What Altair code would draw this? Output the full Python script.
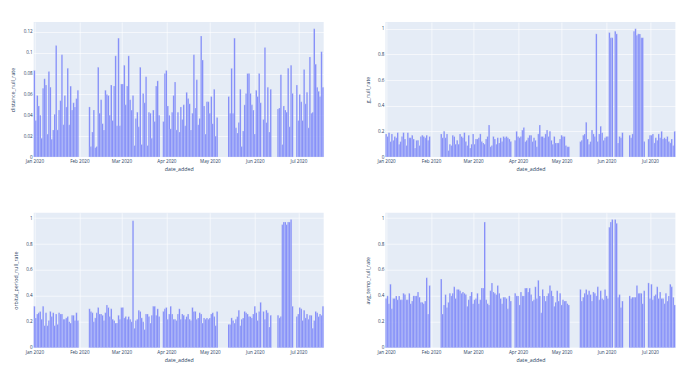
import altair as alt
import pandas as pd

# date segments (days with data)
segments = [("2020-01-01", "2020-01-31"), ("2020-02-08", "2020-03-27"),
            ("2020-03-30", "2020-05-06"), ("2020-05-14", "2020-06-05"),
            ("2020-06-07", "2020-06-12"), ("2020-06-17", "2020-06-27"),
            ("2020-06-30", "2020-07-18")]

distance_null_rate = [
    0.083, 0.035, 0.059, 0.049, 0.040, 0.018, 0.066, 0.075, 0.069, 0.022,
    0.082, 0.067, 0.017, 0.026, 0.041, 0.107, 0.026, 0.045, 0.054, 0.098,
    0.031, 0.059, 0.048, 0.085, 0.031, 0.068, 0.045, 0.052, 0.048, 0.056, 0.064,
    0.048, 0.010, 0.024, 0.045, 0.009, 0.010, 0.086, 0.042, 0.055, 0.032,
    0.026, 0.064, 0.060, 0.059, 0.040, 0.069, 0.035, 0.068, 0.097, 0.030,
    0.114, 0.030, 0.070, 0.070, 0.088, 0.050, 0.068, 0.097, 0.055, 0.045,
    0.059, 0.011, 0.037, 0.043, 0.029, 0.086, 0.012, 0.061, 0.052, 0.077,
    0.011, 0.043, 0.042, 0.018, 0.045, 0.034, 0.068, 0.073, 0.040,
    0.034, 0.080, 0.083, 0.049, 0.040, 0.027, 0.043, 0.059, 0.072, 0.026,
    0.043, 0.024, 0.048, 0.036, 0.050, 0.030, 0.062, 0.056, 0.051, 0.026,
    0.042, 0.098, 0.047, 0.074, 0.031, 0.037, 0.116, 0.093, 0.049, 0.022,
    0.053, 0.053, 0.042, 0.058, 0.032, 0.065, 0.020, 0.038,
    0.058, 0.042, 0.085, 0.042, 0.114, 0.028, 0.023, 0.033, 0.065, 0.010,
    0.025, 0.050, 0.061, 0.080, 0.080, 0.061, 0.050, 0.045, 0.022, 0.064,
    0.058, 0.080, 0.052,
    0.036, 0.105, 0.033, 0.067, 0.024, 0.065,
    0.046, 0.047, 0.079, 0.012, 0.049, 0.045, 0.043, 0.085, 0.029, 0.088, 0.061,
    0.069, 0.035, 0.060, 0.053, 0.035, 0.084, 0.051, 0.062, 0.028, 0.096,
    0.042, 0.043, 0.123, 0.089, 0.067, 0.063, 0.058, 0.101, 0.067]

g_null_rate = [
    0.18, 0.16, 0.19, 0.12, 0.18, 0.13, 0.16, 0.15, 0.19, 0.10,
    0.12, 0.16, 0.19, 0.14, 0.09, 0.19, 0.15, 0.15, 0.17, 0.14,
    0.07, 0.13, 0.13, 0.09, 0.16, 0.17, 0.16, 0.15, 0.17, 0.13, 0.16,
    0.18, 0.15, 0.20, 0.15, 0.18, 0.05, 0.10, 0.09, 0.17, 0.16,
    0.10, 0.13, 0.10, 0.18, 0.16, 0.15, 0.19, 0.12, 0.09, 0.17,
    0.07, 0.10, 0.18, 0.10, 0.14, 0.14, 0.15, 0.18, 0.12, 0.11,
    0.10, 0.14, 0.16, 0.25, 0.08, 0.09, 0.16, 0.14, 0.10, 0.15,
    0.11, 0.15, 0.12, 0.16, 0.15, 0.16, 0.15, 0.14, 0.12,
    0.13, 0.20, 0.16, 0.15, 0.16, 0.21, 0.23, 0.12, 0.13, 0.15,
    0.17, 0.17, 0.12, 0.15, 0.13, 0.08, 0.18, 0.25, 0.16, 0.16,
    0.15, 0.18, 0.21, 0.16, 0.20, 0.13, 0.10, 0.16, 0.11, 0.11,
    0.11, 0.14, 0.17, 0.16, 0.16, 0.09, 0.08, 0.08,
    0.12, 0.13, 0.17, 0.18, 0.27, 0.14, 0.10, 0.12, 0.21, 0.18,
    0.16, 0.96, 0.12, 0.18, 0.24, 0.19, 0.13, 0.15, 0.16, 0.16,
    0.97, 0.93, 0.93,
    0.98, 0.96, 0.11, 0.16, 0.15, 0.19,
    0.17, 0.15, 0.18, 0.98, 1.00, 0.95, 0.96, 0.96, 0.93, 0.93, 0.12,
    0.14, 0.17, 0.17, 0.18, 0.11, 0.15, 0.13, 0.18, 0.15, 0.20,
    0.14, 0.15, 0.14, 0.16, 0.12, 0.11, 0.14, 0.09, 0.20]

orbital_period_null_rate = [
    0.32, 0.23, 0.26, 0.27, 0.28, 0.22, 0.32, 0.17, 0.27, 0.17,
    0.21, 0.28, 0.24, 0.27, 0.17, 0.26, 0.18, 0.27, 0.26, 0.26,
    0.22, 0.22, 0.23, 0.24, 0.20, 0.19, 0.25, 0.25, 0.21, 0.27, 0.21,
    0.30, 0.28, 0.27, 0.20, 0.23, 0.27, 0.31, 0.26, 0.26, 0.25,
    0.21, 0.27, 0.33, 0.31, 0.24, 0.30, 0.22, 0.21, 0.19, 0.19,
    0.25, 0.22, 0.31, 0.31, 0.23, 0.24, 0.22, 0.24, 0.22, 0.20,
    0.98, 0.15, 0.21, 0.22, 0.29, 0.28, 0.23, 0.20, 0.14, 0.26,
    0.26, 0.24, 0.19, 0.25, 0.32, 0.32, 0.25, 0.30, 0.24,
    0.28, 0.30, 0.31, 0.22, 0.26, 0.32, 0.26, 0.22, 0.22, 0.21,
    0.26, 0.30, 0.22, 0.26, 0.25, 0.22, 0.24, 0.26, 0.22, 0.21,
    0.31, 0.28, 0.28, 0.22, 0.23, 0.27, 0.26, 0.19, 0.23, 0.22,
    0.23, 0.22, 0.23, 0.26, 0.27, 0.24, 0.17, 0.28,
    0.18, 0.18, 0.23, 0.21, 0.19, 0.22, 0.24, 0.29, 0.17, 0.22,
    0.23, 0.28, 0.27, 0.26, 0.24, 0.24, 0.23, 0.26, 0.32, 0.27,
    0.21, 0.28, 0.35,
    0.28, 0.22, 0.29, 0.27, 0.16, 0.25,
    0.25, 0.23, 0.24, 0.95, 0.97, 0.97, 0.95, 0.97, 0.97, 0.99, 0.32,
    0.24, 0.26, 0.31, 0.30, 0.21, 0.29, 0.23, 0.26, 0.22, 0.25,
    0.25, 0.15, 0.21, 0.28, 0.27, 0.24, 0.26, 0.25, 0.32]

avg_temp_null_rate = [
    0.38, 0.40, 0.34, 0.49, 0.30, 0.38, 0.38, 0.40, 0.37, 0.40,
    0.37, 0.37, 0.42, 0.41, 0.37, 0.37, 0.42, 0.34, 0.36, 0.40,
    0.40, 0.40, 0.43, 0.39, 0.35, 0.35, 0.34, 0.36, 0.54, 0.26, 0.48,
    0.53, 0.26, 0.33, 0.41, 0.31, 0.35, 0.42, 0.40, 0.42, 0.47,
    0.38, 0.45, 0.45, 0.44, 0.42, 0.43, 0.42, 0.41, 0.32, 0.37,
    0.40, 0.43, 0.34, 0.37, 0.38, 0.42, 0.34, 0.37, 0.46, 0.46,
    0.97, 0.37, 0.34, 0.33, 0.44, 0.50, 0.43, 0.42, 0.41, 0.48,
    0.42, 0.38, 0.34, 0.39, 0.39, 0.38, 0.30, 0.40, 0.36,
    0.42, 0.40, 0.40, 0.33, 0.43, 0.40, 0.40, 0.46, 0.46, 0.43,
    0.46, 0.41, 0.36, 0.37, 0.47, 0.38, 0.52, 0.40, 0.27, 0.45,
    0.40, 0.36, 0.40, 0.42, 0.48, 0.44, 0.40, 0.32, 0.35, 0.44,
    0.36, 0.42, 0.33, 0.37, 0.36, 0.36, 0.34, 0.33,
    0.45, 0.36, 0.39, 0.42, 0.45, 0.41, 0.44, 0.41, 0.36, 0.43,
    0.42, 0.40, 0.47, 0.37, 0.44, 0.38, 0.37, 0.45, 0.40, 0.38,
    0.93, 0.97, 0.99,
    0.99, 0.96, 0.39, 0.41, 0.31, 0.36,
    0.40, 0.38, 0.39, 0.39, 0.39, 0.48, 0.42, 0.42, 0.42, 0.34, 0.44,
    0.50, 0.38, 0.49, 0.37, 0.40, 0.41, 0.47, 0.38, 0.43, 0.38,
    0.38, 0.34, 0.42, 0.36, 0.40, 0.49, 0.47, 0.39, 0.33]

ticks_small = [0, 0.02, 0.04, 0.06, 0.08, 0.1, 0.12]
ticks_unit = [0, 0.2, 0.4, 0.6, 0.8, 1]

dates = pd.concat([pd.Series(pd.date_range(s, e, freq="D")) for s, e in segments],
                  ignore_index=True)
half = pd.Timedelta(hours=12)

FONT = "Open Sans"
TXT = "#2a3f5f"
month_ticks = [alt.DateTime(year=2020, month=m, date=1) for m in range(1, 8)]
x_domain = [alt.DateTime(year=2019, month=12, date=31, hours=12),
            alt.DateTime(year=2020, month=7, date=18, hours=12)]


def panel(values, name, ticks, extent, tpad):
    assert len(values) == len(dates), (name, len(values), len(dates))
    df = pd.DataFrame({"start": dates - half, "end": dates + half, "v": values})
    ymax = max(values) / 0.95
    return alt.Chart(df).mark_bar(
        color="#636efa", fillOpacity=0.85, stroke="#E5ECF6", strokeWidth=0.3
    ).encode(
        x=alt.X("start:T", title="date_added",
                scale=alt.Scale(domain=x_domain),
                axis=alt.Axis(values=month_ticks, format="%b %Y", labelFlush=False,
                              labelPadding=1.5, minExtent=6.5, maxExtent=6.5,
                              titlePadding=3.3)),
        x2="end:T",
        y=alt.Y("v:Q", title=name,
                scale=alt.Scale(domain=[0, ymax], nice=False, zero=True),
                axis=alt.Axis(values=ticks, format="~g", labelFlush=False,
                              labelPadding=1.5, minExtent=extent, maxExtent=extent,
                              titlePadding=tpad)),
        y2=alt.datum(0),
    ).properties(width=290, height=135)


p1 = panel(distance_null_rate, "distance_null_rate", ticks_small, 11, 7)
p2 = panel(g_null_rate, "g_null_rate", ticks_unit, 8, 6.7)
p3 = panel(orbital_period_null_rate, "orbital_period_null_rate", ticks_unit, 8, 7.3)
p4 = panel(avg_temp_null_rate, "avg_temp_null_rate", ticks_unit, 8, 6.7)

chart = alt.concat(
    p1, p2, p3, p4, columns=2, bounds="flush",
    spacing={"row": 55.7, "column": 61.7}
).properties(
    padding={"left": 2.7, "top": 14, "right": 0, "bottom": 0}
).configure_view(
    fill="#E5ECF6", strokeWidth=0
).configure_axis(
    domain=False, ticks=False, grid=True, gridColor="white", gridWidth=0.6,
    labelFont=FONT, labelFontSize=4.6, labelColor=TXT,
    titleFont=FONT, titleFontSize=5.3, titleFontWeight="normal", titleColor=TXT
)

chart.save("out.html", embed_options={"renderer": "svg", "actions": False})
